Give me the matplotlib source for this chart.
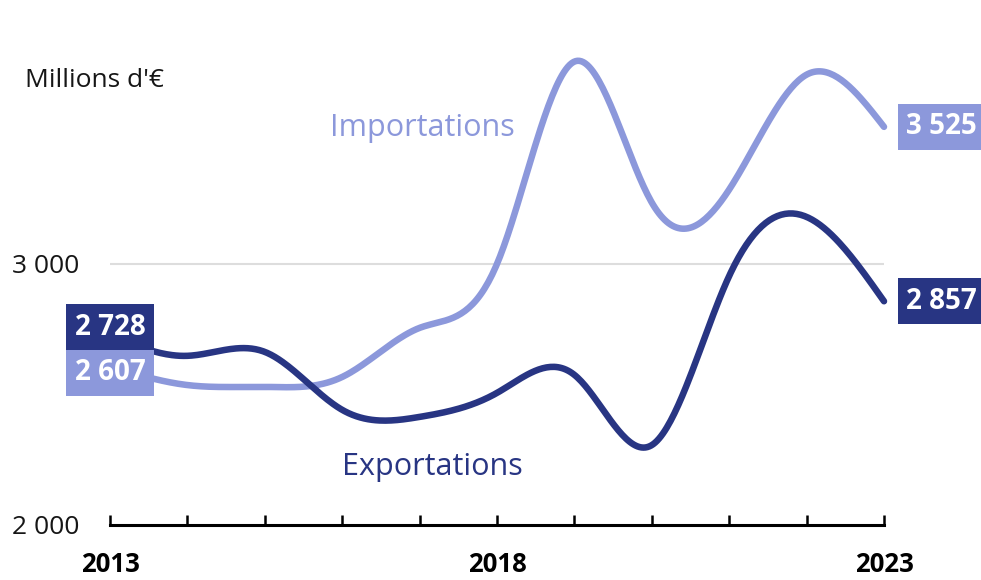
import numpy as np
import matplotlib.pyplot as plt

years = np.arange(2013, 2024)
exportations = [2728, 2648, 2663, 2441, 2414, 2506, 2575, 2306, 2954, 3180, 2857]
importations = [2607, 2536, 2529, 2567, 2755, 3000, 3775, 3235, 3285, 3725, 3525]
year_labels = ['2013', '2018', '2023']

dark = '#283583'
light = '#8c98db'
font = 'Open Sans'


def natural_spline(x, y, n=400):
    # courbe lissée passant par les points (spline cubique naturelle)
    x = np.asarray(x, float)
    y = np.asarray(y, float)
    k = len(x)
    h = np.diff(x)
    A = np.zeros((k, k))
    b = np.zeros(k)
    A[0, 0] = A[-1, -1] = 1
    for i in range(1, k - 1):
        A[i, i - 1] = h[i - 1]
        A[i, i] = 2 * (h[i - 1] + h[i])
        A[i, i + 1] = h[i]
        b[i] = 6 * ((y[i + 1] - y[i]) / h[i] - (y[i] - y[i - 1]) / h[i - 1])
    M = np.linalg.solve(A, b)
    xs = np.linspace(x[0], x[-1], n)
    idx = np.clip(np.searchsorted(x, xs) - 1, 0, k - 2)
    x0, x1 = x[idx], x[idx + 1]
    hh = x1 - x0
    a = (x1 - xs) / hh
    c = (xs - x0) / hh
    ys = (a * y[idx] + c * y[idx + 1]
          + ((a ** 3 - a) * M[idx] + (c ** 3 - c) * M[idx + 1]) * hh ** 2 / 6)
    return xs, ys


fig = plt.figure(figsize=(9.81, 5.8), dpi=100)
ax = fig.add_axes([110 / 981, 1 - 525 / 580, 774 / 981, (525 - 42) / 580])

ax.set_xlim(2013, 2023)
ax.set_ylim(2000, 3850)

ax.axhline(3000, color='#dddddd', lw=1.5, zorder=1)

xs, ys = natural_spline(years, importations)
ax.plot(xs, ys, color=light, lw=4.7, solid_capstyle='round', clip_on=False, zorder=3)
xs, ys = natural_spline(years, exportations)
ax.plot(xs, ys, color=dark, lw=4.7, solid_capstyle='round', clip_on=False, zorder=4)

for s in ['top', 'right', 'left']:
    ax.spines[s].set_visible(False)
ax.spines['bottom'].set_linewidth(2.2)
ax.spines['bottom'].set_color('black')

ax.set_xticks(years)
ax.set_xticklabels([str(y) if str(y) in year_labels else '' for y in years],
                   fontweight='bold', fontsize=18.5, family=font)
ax.tick_params(axis='x', direction='in', length=7, width=1.8, pad=19)

ax.set_yticks([2000, 3000])
ax.set_yticklabels(['2 000', '3 000'], fontsize=19, family=font, color='#161616')
ax.tick_params(axis='y', length=0, pad=22)


def fmt(v):
    return f'{v:,}'.replace(',', ' ')


box = dict(boxstyle='square,pad=0.31', lw=0)
lab = dict(textcoords='offset points', va='center', color='white', fontsize=20,
           fontweight='bold', family=font, zorder=6, annotation_clip=False)
# valeurs de départ (décalées pour ne pas se chevaucher)
ax.annotate(fmt(exportations[0]), xy=(2013, exportations[0]), xytext=(0, 5.5),
            ha='center', bbox=dict(box, fc=dark), **lab)
ax.annotate(fmt(importations[0]), xy=(2013, importations[0]), xytext=(0, -4.5),
            ha='center', bbox=dict(box, fc=light), **lab)
# valeurs finales
for vals, c in [(importations, light), (exportations, dark)]:
    ax.annotate(fmt(vals[-1]), xy=(2023, vals[-1]), xytext=(16, 0),
                ha='left', bbox=dict(box, fc=c), **lab)

fig.text(25 / 981, 1 - 80 / 580, "Millions d'€", fontsize=19, family=font,
         color='#161616', va='center', ha='left')
fig.text(422 / 981, 1 - 128 / 580, 'Importations', fontsize=22, family=font,
         color=light, va='center', ha='center')
fig.text(432 / 981, 1 - 467 / 580, 'Exportations', fontsize=22, family=font,
         color=dark, va='center', ha='center')

fig.savefig('out.png', dpi=100)
